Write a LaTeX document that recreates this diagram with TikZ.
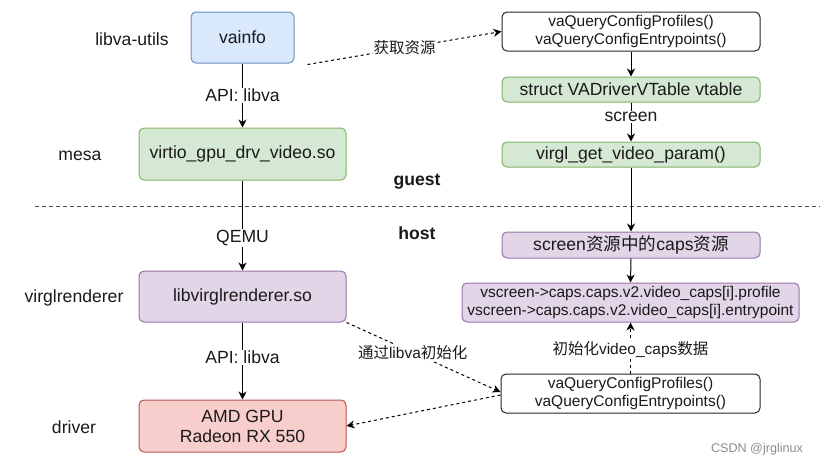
\documentclass[tikz,border=0pt]{standalone}
\usepackage{fontspec}
\setmainfont{Liberation Sans}
\newfontfamily\cjk{Noto Sans CJK SC}
\usetikzlibrary{arrows.meta}
\definecolor{bluefill}{HTML}{DAE8FC}
\definecolor{blueline}{HTML}{6C8EBF}
\definecolor{greenfill}{HTML}{D5E8D4}
\definecolor{greenline}{HTML}{82B366}
\definecolor{purplefill}{HTML}{E1D5E7}
\definecolor{purpleline}{HTML}{9673A6}
\definecolor{redfill}{HTML}{F8CECC}
\definecolor{redline}{HTML}{B85450}
\definecolor{txt}{HTML}{1A1A1A}
\begin{document}
\begin{tikzpicture}[x=1pt,y=-1pt,
  box/.style={draw, rounded corners=5pt, line width=1pt, align=center, inner sep=0pt, text=txt},
  bluebox/.style={box, fill=bluefill, draw=blueline},
  greenbox/.style={box, fill=greenfill, draw=greenline},
  purplebox/.style={box, fill=purplefill, draw=purpleline},
  redbox/.style={box, fill=redfill, draw=redline},
  whitebox/.style={box, fill=white, draw=black!85},
  big/.style={font=\fontsize{17.6}{20}\selectfont},
  small/.style={font=\fontsize{15.5}{18}\selectfont},
  arr/.style={-{Stealth[length=8pt,width=8pt,inset=2.5pt]}, line width=1pt},
  darr/.style={arr, dash pattern=on 3pt off 3pt},
  lbl/.style={fill=white, inner sep=1pt, text=txt},
  side/.style={big, text=txt}
]
\useasboundingbox (0,0) rectangle (820,466);

% left column
\node[bluebox, big, minimum width=103pt, minimum height=51pt] (vainfo) at (242.5,37.5) {vainfo};
\node[greenbox, big, minimum width=207pt, minimum height=52pt] (virtio) at (242.5,154) {virtio\_gpu\_drv\_video.so};
\node[purplebox, big, minimum width=207pt, minimum height=51pt] (virgl) at (242.5,296.5) {libvirglrenderer.so};
\node[redbox, big, minimum width=207pt, minimum height=52pt] (amd) at (242.5,426) {AMD GPU\\Radeon RX 550};

\node[side] (l1) at (132,39) {libva-utils};
\node[side] (l2) at (80,156) {mesa};
\node[side] (l3) at (74,298) {virglrenderer};
\node[side] (l4) at (74,427) {driver};

% right column
\node[whitebox, small, minimum width=258pt, minimum height=39pt] (q1) at (631,31.5) {vaQueryConfigProfiles()\\vaQueryConfigEntrypoints()};
\node[greenbox, big, minimum width=258pt, minimum height=25pt] (vt) at (631,89.5) {struct VADriverVTable vtable};
\node[greenbox, big, minimum width=258pt, minimum height=25pt] (vget) at (631,154.5) {virgl\_get\_video\_param()};
\node[purplebox, big, minimum width=258pt, minimum height=26pt] (caps) at (631,245) {screen{\cjk 资源中的}caps{\cjk 资源}};
\node[purplebox, small, minimum width=337pt, minimum height=39pt] (vs) at (630.5,302.5) {vscreen->caps.caps.v2.video\_caps[i].profile\\vscreen->caps.caps.v2.video\_caps[i].entrypoint};
\node[whitebox, small, minimum width=259pt, minimum height=39pt] (q2) at (630.5,393.5) {vaQueryConfigProfiles()\\vaQueryConfigEntrypoints()};

% guest / host
\coordinate (sepL) at (35,206);
\coordinate (sepR) at (820,206);
\draw[line width=1pt, black!70, dash pattern=on 4pt off 3pt] (sepL) -- (sepR);
\node[big, font=\fontsize{17.6}{20}\selectfont\bfseries, text=txt] (guest) at (417,182) {guest};
\node[big, font=\fontsize{17.6}{20}\selectfont\bfseries, text=txt] (host) at (417,233) {host};

% left arrows
\draw[arr] (vainfo.south) -- (virtio.north) node[lbl, big, midway] {API: libva};
\draw[arr] (virtio.south) -- (virgl.north) node[lbl, big, pos=0.64] {QEMU};
\draw[arr] (virgl.south) -- (amd.north) node[lbl, big, pos=0.45] {API: libva};

% right arrows
\draw[arr] (q1.south) -- (vt.north);
\draw[arr] (vt.south) -- (vget.north) node[lbl, big, pos=0.375] {screen};
\draw[arr] (vget.south) -- (caps.north);
\draw[arr] (caps.south) -- (vs.north);
\draw[darr] (q2.north) -- (vs.south) node[lbl, small, pos=0.46] {{\cjk 初始化}video\_caps{\cjk 数据}};

% dashed cross arrows
\draw[darr] ([xshift=13pt,yshift=-1pt]vainfo.south east) -- (q1.west) node[lbl, small, pos=0.5] {\cjk 获取资源};
\draw[darr] (virgl.south east) -- ([yshift=1.5pt]q2.west) node[lbl, small, pos=0.43] {{\cjk 通过}libva{\cjk 初始化}};
\draw[darr] ([yshift=-1.5pt]q2.west) -- (amd.east);

% watermark
\node[font=\fontsize{12.6}{14}\selectfont, text=black!45] (wm) at (757,449) {CSDN @jrglinux};
\end{tikzpicture}
\end{document}
